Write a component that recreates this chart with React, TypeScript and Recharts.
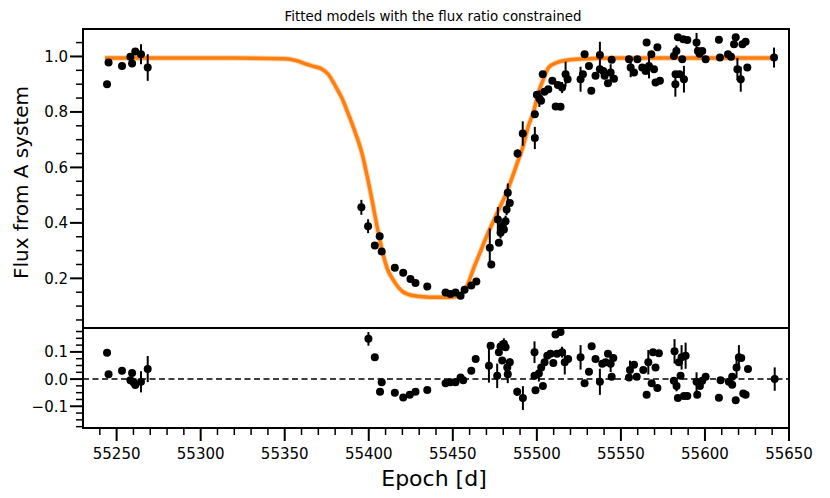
import React from "react";
import {
  ComposedChart,
  Line,
  Scatter,
  ErrorBar,
  XAxis,
  YAxis,
  ReferenceArea,
  ReferenceLine,
} from "recharts";

// observed flux (epoch, value, 1-sigma error)
const FLUX_T = [
  55244.3, 55245.2, 55253.2, 55258.2, 55259.2, 55261.1, 55264.5, 55268.5,
  55395.6, 55399.6, 55403.6, 55406.5, 55407.7, 55415.5, 55420.5, 55424.8, 55427.8, 55434.8,
  55445.7, 55448.6, 55451.6, 55454.6, 55457.0, 55461.0, 55464.0,
  55472.0, 55472.9, 55476.8, 55477.4, 55478.4, 55479.4, 55480.4, 55481.4, 55482.0, 55482.7, 55483.9,
  55488.5, 55491.6, 55498.8, 55498.8, 55500.0, 55501.5, 55502.5, 55503.5, 55504.5, 55506.8,
  55509.2, 55511.2, 55514.1, 55512.5, 55515.0, 55517.1, 55518.3,
  55526.0, 55527.4, 55528.4, 55531.0, 55532.4, 55534.9, 55537.5, 55537.5, 55539.5, 55540.3,
  55542.3, 55543.9, 55544.5, 55545.9,
  55554.8, 55555.8, 55557.8, 55559.8, 55562.7, 55564.7, 55565.3, 55566.7, 55568.1, 55569.7,
  55570.6, 55571.7, 55573.2,
  55581.5, 55582.5, 55583.0, 55583.9, 55582.4, 55584.9, 55586.5, 55587.1, 55587.5, 55589.5,
  55595.0, 55595.8, 55596.8, 55598.4, 55600.4,
  55608.3, 55608.9, 55613.7, 55615.5, 55617.3, 55618.3, 55619.3, 55621.3, 55622.3, 55624.2,
  55625.2, 55641.1,
];
const FLUX_V = [
  0.9, 0.978, 0.966, 0.999, 0.975, 1.018, 1.008, 0.96,
  0.456, 0.388, 0.318, 0.352, 0.297, 0.238, 0.22, 0.198, 0.183, 0.171,
  0.149, 0.144, 0.149, 0.137, 0.159, 0.174, 0.189,
  0.31, 0.25, 0.412, 0.328, 0.364, 0.388, 0.376, 0.406, 0.448, 0.509, 0.472,
  0.65, 0.722, 0.706, 0.792, 0.862, 0.848, 0.84, 0.936, 0.873, 0.882,
  0.912, 0.82, 0.819, 0.897, 0.888, 0.936, 0.918,
  0.918, 0.936, 1.008, 0.966, 0.876, 0.93, 1.005, 0.954, 0.948, 0.93,
  0.903, 0.942, 0.988, 0.92,
  0.99, 0.96, 0.942, 0.99, 0.96, 0.948, 1.05, 0.966, 1.008, 0.954,
  0.906, 1.033, 0.912,
  1.002, 0.936, 1.02, 1.069, 0.9, 0.936, 0.99, 1.062, 0.918, 1.059,
  1.05, 1.02, 1.01, 1.02, 0.99,
  1.06, 0.996, 1.008, 0.999, 1.044, 1.069, 0.954, 0.918, 1.044, 1.053,
  0.96, 0.996,
];
const FLUX_E = [
  0, 0, 0, 0.01, 0, 0, 0.036, 0.048,
  0.027, 0.025, 0, 0.012, 0.01, 0, 0, 0, 0, 0,
  0, 0, 0, 0, 0, 0, 0,
  0.07, 0, 0.045, 0, 0.02, 0.02, 0, 0.02, 0.02, 0.033, 0,
  0.015, 0.044, 0.04, 0.01, 0, 0.03, 0, 0, 0, 0,
  0, 0, 0, 0, 0.02, 0.045, 0,
  0.045, 0, 0, 0, 0, 0, 0.048, 0, 0, 0,
  0, 0.03, 0, 0,
  0, 0.035, 0, 0, 0, 0, 0, 0.045, 0, 0,
  0, 0, 0,
  0, 0, 0.02, 0, 0.045, 0, 0, 0, 0.048, 0,
  0.035, 0, 0, 0, 0,
  0, 0, 0, 0, 0, 0, 0.04, 0.045, 0, 0,
  0, 0.036,
];

// fitted model curve
const MODEL_T = [
  55243, 55280, 55320, 55350, 55357, 55363, 55368, 55372, 55376, 55380, 55384, 55388,
  55392, 55396, 55399, 55402, 55405, 55408, 55411, 55415, 55420, 55426, 55432, 55440,
  55448, 55453, 55456, 55459, 55462, 55466, 55470, 55476, 55482, 55488, 55492, 55495,
  55498, 55501, 55504, 55507, 55512, 55520, 55530, 55545, 55600, 55641,
];
const MODEL_V = [
  0.994, 0.994, 0.994, 0.992, 0.985, 0.972, 0.963, 0.955, 0.935, 0.895, 0.85, 0.79,
  0.725, 0.65, 0.57, 0.48, 0.385, 0.3, 0.235, 0.19, 0.153, 0.138, 0.134, 0.132,
  0.132, 0.136, 0.148, 0.18, 0.23, 0.29, 0.35, 0.43, 0.51, 0.61, 0.68, 0.75,
  0.8, 0.87, 0.92, 0.96, 0.978, 0.988, 0.992, 0.994, 0.994, 0.994,
];

// residuals (data - model)
const RES_T = [
  55244.3, 55245.2, 55253.2, 55258.2, 55259.2, 55260.0, 55261.1, 55264.5, 55268.5,
  55399.8, 55403.6, 55406.7, 55407.7, 55415.5, 55420.5, 55424.4, 55427.8, 55434.8,
  55445.7, 55448.6, 55451.6, 55454.6, 55456.2, 55461.0, 55463.6,
  55471.5, 55472.5, 55476.4, 55477.4, 55478.4, 55479.4, 55480.4, 55481.4, 55482.4, 55482.7, 55483.9,
  55488.3, 55491.7, 55498.6, 55498.6, 55499.2, 55501.2, 55502.6, 55503.6, 55504.6, 55506.2,
  55508.1, 55509.8, 55511.1, 55514.1, 55512.0, 55515.0, 55516.6, 55518.6,
  55526.0, 55528.4, 55531.0, 55532.6, 55534.9, 55537.5, 55538.9, 55540.9, 55542.3, 55543.9,
  55544.5, 55545.5,
  55554.8, 55555.4, 55557.8, 55559.4, 55563.3, 55565.3, 55566.3, 55568.3, 55569.1, 55570.6,
  55571.7, 55572.6,
  55581.9, 55581.5, 55583.1, 55583.9, 55584.5, 55585.5, 55586.1, 55587.5, 55588.5, 55589.5,
  55595.0, 55595.4, 55597.0, 55598.4, 55600.4,
  55608.3, 55609.3, 55614.2, 55616.2, 55616.2, 55618.3, 55618.8, 55620.2, 55621.6, 55622.8,
  55624.2, 55625.6, 55641.5,
];
const RES_V = [
  0.097, 0.018, 0.031, -0.004, 0.022, -0.012, -0.022, -0.01, 0.037,
  0.148, 0.08, -0.047, -0.012, -0.05, -0.068, -0.058, -0.047, -0.04,
  -0.015, -0.012, -0.012, 0.006, -0.004, 0.031, 0.074,
  0.049, 0.123, 0.012, 0.099, 0.12, 0.068, 0.13, 0.117, 0.043, 0.018, 0.062,
  -0.047, -0.07, 0.099, 0.012, -0.041, 0.021, 0.043, -0.025, 0.062, 0.086,
  0.093, 0.059, 0.164, 0.173, 0.093, 0.099, 0.062, 0.074,
  0.08, -0.015, 0.027, 0.121, 0.074, -0.01, 0.056, 0.062, 0.093, 0.056,
  0.009, 0.078,
  0.006, 0.033, 0.053, 0.009, 0.033, -0.058, 0.062, -0.015, 0.099, 0.043,
  -0.033, 0.095,
  0.102, -0.006, -0.025, -0.07, 0.062, 0.012, 0.08, -0.062, 0.086, -0.062,
  -0.01, -0.058, -0.025, -0.006, 0.009,
  -0.069, -0.004, -0.01, 0.009, -0.021, -0.078, 0.043, 0.08, 0.078, -0.053,
  -0.058, 0.037, 0.0,
];
const RES_E = [
  0, 0, 0, 0.01, 0, 0.01, 0, 0.039, 0.048,
  0.025, 0, 0.01, 0.01, 0, 0, 0, 0, 0,
  0, 0, 0, 0, 0, 0, 0,
  0.062, 0, 0.045, 0, 0.02, 0, 0.02, 0, 0.02, 0.033, 0.015,
  0.015, 0.044, 0.04, 0.01, 0, 0.03, 0, 0, 0, 0,
  0, 0, 0, 0, 0, 0.02, 0.045, 0,
  0.045, 0, 0, 0, 0, 0.048, 0, 0, 0, 0.03,
  0, 0,
  0, 0.035, 0, 0, 0, 0, 0.045, 0, 0, 0,
  0, 0,
  0.045, 0, 0.02, 0, 0, 0, 0.045, 0, 0.048, 0,
  0.035, 0, 0, 0, 0,
  0, 0, 0, 0, 0, 0, 0.04, 0.045, 0, 0,
  0, 0, 0.043,
];

const X_DOMAIN = [55230, 55650];
const X_MAJOR = [55250, 55300, 55350, 55400, 55450, 55500, 55550, 55600, 55650];
const X_TICKS = [
  55240, 55250, 55260, 55270, 55280, 55290, 55300, 55310, 55320, 55330, 55340, 55350,
  55360, 55370, 55380, 55390, 55400, 55410, 55420, 55430, 55440, 55450, 55460, 55470,
  55480, 55490, 55500, 55510, 55520, 55530, 55540, 55550, 55560, 55570, 55580, 55590,
  55600, 55610, 55620, 55630, 55640, 55650,
];
const TOP_DOMAIN = [0.021, 1.099];
const TOP_MAJOR = [0.2, 0.4, 0.6, 0.8, 1.0];
const TOP_TICKS = [
  0.05, 0.1, 0.15, 0.2, 0.25, 0.3, 0.35, 0.4, 0.45, 0.5, 0.55, 0.6, 0.65, 0.7, 0.75,
  0.8, 0.85, 0.9, 0.95, 1.0, 1.05,
];
const RES_DOMAIN = [-0.18, 0.188];
const RES_MAJOR = [-0.1, 0.0, 0.1];
const RES_TICKS = [
  -0.175, -0.15, -0.125, -0.1, -0.075, -0.05, -0.025, 0.0, 0.025, 0.05, 0.075, 0.1,
  0.125, 0.15, 0.175,
];

const FONT = "DejaVu Sans";
const ORANGE = "#ff7f0e";

const flux = FLUX_T.map((t, i) => ({ t, v: FLUX_V[i], e: FLUX_E[i] }));
const model = MODEL_T.map((t, i) => ({ t, v: MODEL_V[i] }));
const resid = RES_T.map((t, i) => ({ t, v: RES_V[i], e: RES_E[i] }));

const isMajor = (majors: number[], v: number) => majors.some((m) => Math.abs(m - v) < 1e-6);
const fmtY = (v: number) => (v < 0 ? "\u2212" : "") + Math.abs(v).toFixed(1);

function yTick(majors: number[]) {
  return (p: any) => {
    const major = isMajor(majors, p.payload.value);
    const len = major ? 13 : 7;
    return (
      <g>
        <line x1={p.x} x2={p.x - len} y1={p.y} y2={p.y} stroke="#000" strokeWidth={major ? 2 : 1.5} />
        {major && (
          <text x={p.x - 15} y={p.y + 5.5} textAnchor="end" fontSize={15} fontFamily={FONT} fill="#000">
            {fmtY(p.payload.value)}
          </text>
        )}
      </g>
    );
  };
}

const xTick = (p: any) => {
  const major = isMajor(X_MAJOR, p.payload.value);
  const len = major ? 13 : 7;
  return (
    <g>
      <line x1={p.x} x2={p.x} y1={p.y} y2={p.y + len} stroke="#000" strokeWidth={major ? 2 : 1.5} />
      {major && (
        <text x={p.x} y={p.y + 30.5} textAnchor="middle" fontSize={15} fontFamily={FONT} fill="#000">
          {p.payload.value}
        </text>
      )}
    </g>
  );
};

const dot = (p: any) => <circle cx={p.cx} cy={p.cy} r={4} fill="#000" />;

const yLabel = ({ viewBox }: any) => {
  const cx = viewBox.x + 21;
  const cy = viewBox.y + viewBox.height / 2 + 4;
  return (
    <text
      transform={`translate(${cx},${cy}) rotate(-90)`}
      textAnchor="middle"
      dominantBaseline="central"
      fontSize={20}
      fontFamily={FONT}
      fill="#000"
    >
      Flux from A system
    </text>
  );
};

const xLabel = ({ viewBox }: any) => (
  <text
    x={viewBox.x + viewBox.width / 2 - 2}
    y={viewBox.y + 50}
    textAnchor="middle"
    dominantBaseline="central"
    fontSize={22}
    fontFamily={FONT}
    fill="#000"
  >
    Epoch [d]
  </text>
);

export default function App() {
  return (
    <div
      style={{
        position: "absolute",
        left: 0,
        top: 0,
        width: 830,
        height: 498,
        background: "#fff",
        fontFamily: FONT,
      }}
    >
      <div
        style={{
          position: "absolute",
          left: 83,
          top: 9,
          width: 700,
          textAlign: "center",
          fontSize: 13.4,
          lineHeight: "15px",
          color: "#000",
        }}
      >
        Fitted models with the flux ratio constrained
      </div>

      {/* flux panel */}
      <div style={{ position: "absolute", left: 0, top: 0 }}>
        <ComposedChart width={830} height={329} margin={{ top: 29, right: 41, bottom: 1, left: 0 }}>
          <XAxis type="number" dataKey="t" domain={X_DOMAIN} allowDataOverflow hide />
          <YAxis
            type="number"
            dataKey="v"
            domain={TOP_DOMAIN}
            allowDataOverflow
            ticks={TOP_TICKS}
            interval={0}
            width={83}
            tickSize={0}
            tickMargin={0}
            axisLine={false}
            tickLine={false}
            tick={yTick(TOP_MAJOR)}
            label={yLabel}
          />
          <Line
            data={model}
            dataKey="v"
            type="monotone"
            stroke={ORANGE}
            strokeOpacity={0.35}
            strokeWidth={5.5}
            dot={false}
            isAnimationActive={false}
          />
          <Line
            data={model}
            dataKey="v"
            type="monotone"
            stroke={ORANGE}
            strokeWidth={3.5}
            dot={false}
            isAnimationActive={false}
          />
          <Scatter data={flux} dataKey="v" shape={dot} isAnimationActive={false}>
            <ErrorBar dataKey="e" direction="y" width={0} stroke="#000" strokeWidth={2} />
          </Scatter>
          <ReferenceArea
            x1={X_DOMAIN[0]}
            x2={X_DOMAIN[1]}
            y1={TOP_DOMAIN[0]}
            y2={TOP_DOMAIN[1]}
            fill="none"
            stroke="#000"
            strokeWidth={2}
          />
        </ComposedChart>
      </div>

      {/* residual panel */}
      <div style={{ position: "absolute", left: 0, top: 0 }}>
        <ComposedChart width={830} height={498} margin={{ top: 328, right: 41, bottom: 0, left: 0 }}>
          <XAxis
            type="number"
            dataKey="t"
            domain={X_DOMAIN}
            allowDataOverflow
            ticks={X_TICKS}
            interval={0}
            height={70}
            tickSize={0}
            tickMargin={0}
            axisLine={false}
            tickLine={false}
            tick={xTick}
            label={xLabel}
          />
          <YAxis
            type="number"
            dataKey="v"
            domain={RES_DOMAIN}
            allowDataOverflow
            ticks={RES_TICKS}
            interval={0}
            width={83}
            tickSize={0}
            tickMargin={0}
            axisLine={false}
            tickLine={false}
            tick={yTick(RES_MAJOR)}
          />
          <ReferenceLine y={0} stroke="#000" strokeWidth={1.5} strokeDasharray="6 3.5" />
          <Scatter data={resid} dataKey="v" shape={dot} isAnimationActive={false}>
            <ErrorBar dataKey="e" direction="y" width={0} stroke="#000" strokeWidth={2} />
          </Scatter>
          <ReferenceArea
            x1={X_DOMAIN[0]}
            x2={X_DOMAIN[1]}
            y1={RES_DOMAIN[0]}
            y2={RES_DOMAIN[1]}
            fill="none"
            stroke="#000"
            strokeWidth={2}
          />
        </ComposedChart>
      </div>
    </div>
  );
}
